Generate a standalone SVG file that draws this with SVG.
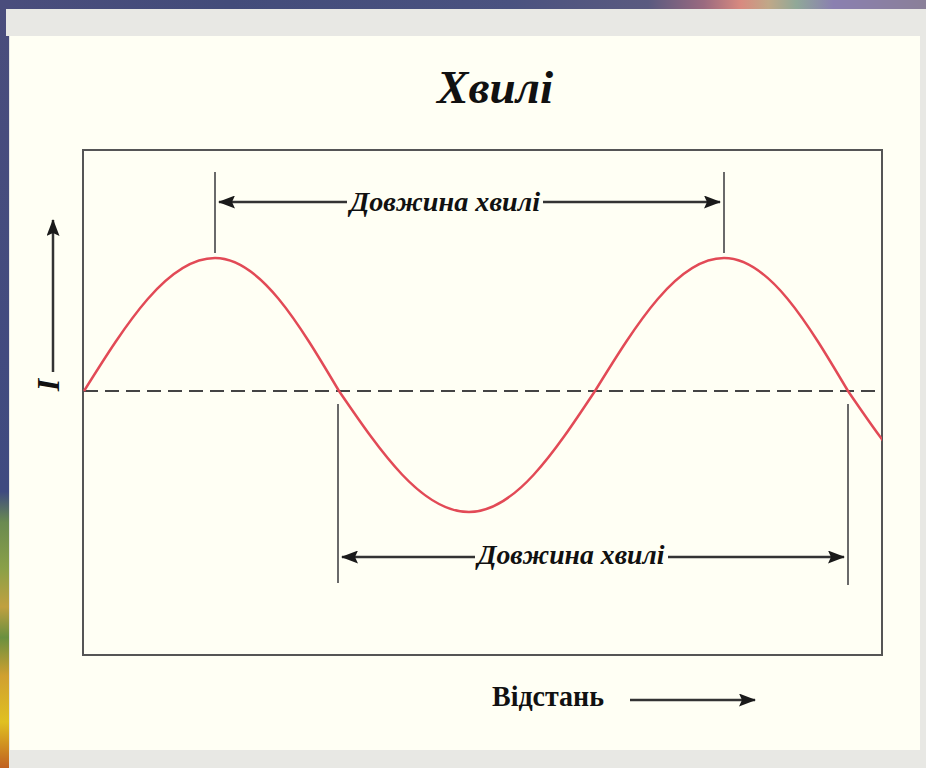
<svg xmlns="http://www.w3.org/2000/svg" width="926" height="768" viewBox="0 0 926 768">
  <defs>
    <linearGradient id="topStrip" x1="0" y1="0" x2="1" y2="0">
      <stop offset="0" stop-color="#4a4d7c"/>
      <stop offset="0.25" stop-color="#434c7a"/>
      <stop offset="0.55" stop-color="#4a5280"/>
      <stop offset="0.70" stop-color="#5a5a80"/>
      <stop offset="0.76" stop-color="#9a6a80"/>
      <stop offset="0.80" stop-color="#d88a80"/>
      <stop offset="0.83" stop-color="#c0a888"/>
      <stop offset="0.86" stop-color="#90a898"/>
      <stop offset="0.90" stop-color="#8a80b0"/>
      <stop offset="1" stop-color="#8a8098"/>
    </linearGradient>
    <linearGradient id="leftStrip" x1="0" y1="0" x2="0" y2="1">
      <stop offset="0" stop-color="#4a4d7c"/>
      <stop offset="0.64" stop-color="#3f4a80"/>
      <stop offset="0.68" stop-color="#6a8a50"/>
      <stop offset="0.74" stop-color="#8aa048"/>
      <stop offset="0.79" stop-color="#c0a040"/>
      <stop offset="0.83" stop-color="#6a9040"/>
      <stop offset="0.88" stop-color="#d0a030"/>
      <stop offset="0.94" stop-color="#e0c020"/>
      <stop offset="1" stop-color="#c06020"/>
    </linearGradient>
    <clipPath id="plotClip">
      <rect x="83" y="150" width="799" height="505"/>
    </clipPath>
    <marker id="arrow" viewBox="0 0 17 13" refX="16" refY="6.5" markerWidth="17" markerHeight="13" markerUnits="userSpaceOnUse" orient="auto">
      <path d="M0,0 L17,6.5 L0,13 L3,6.5 Z" fill="#1a1a1a"/>
    </marker>
    <style>
      .frame { fill: none; stroke: #555; stroke-width: 2; }
      .guide { stroke: #6a6a6a; stroke-width: 2; fill: none; }
      .dim { stroke: #333; stroke-width: 2.5; fill: none; }
      .base { stroke: #444; stroke-width: 2; stroke-dasharray: 14 7; fill: none; }
      .wave { stroke: #e24a56; stroke-width: 2.5; fill: none; }
      .lbl { font-family: "Liberation Serif", "DejaVu Serif", serif; font-style: italic; font-weight: bold; fill: #111; }
      .up { font-family: "Liberation Serif", "DejaVu Serif", serif; font-weight: bold; fill: #111; }
    </style>
  </defs>

  <!-- background -->
  <rect x="0" y="0" width="926" height="768" fill="#464c7a"/>
  <rect x="0" y="0" width="926" height="10" fill="url(#topStrip)"/>
  <rect x="0" y="0" width="9" height="768" fill="url(#leftStrip)"/>
  <rect x="6" y="9" width="920" height="27" fill="#e8e8e4"/>
  <rect x="9" y="9" width="917" height="759" fill="#e8e8e4"/>
  <rect x="10" y="36" width="910" height="714" fill="#fffff4"/>

  <g id="title">
    <text class="lbl" x="495" y="103" font-size="46" text-anchor="middle" textLength="116" lengthAdjust="spacingAndGlyphs">Хвилі</text>
  </g>

  <g id="plot-frame">
    <rect class="frame" x="83" y="150" width="799" height="505"/>
  </g>

  <g id="baseline">
    <line class="base" x1="84" y1="391" x2="881" y2="391"/>
  </g>

  <g id="wave" clip-path="url(#plotClip)">
    <path class="wave" d="M84,391 C126.7,322.9 167.6,258 215,258 C259.9,258 298.6,322.9 339,391 C381.4,453 422,512 469,512 C514.6,512 553.9,453 595,391 C637.1,322.9 677.3,258 724,258 C768.9,258 807.6,322.9 848,391 C890.4,453 931,512 978,512"/>
  </g>

  <g id="connectors">
    <!-- top wavelength -->
    <line class="guide" x1="215" y1="172" x2="215" y2="253"/>
    <line class="guide" x1="724" y1="172" x2="724" y2="253"/>
    <line class="dim" x1="347" y1="202" x2="219" y2="202" marker-end="url(#arrow)"/>
    <line class="dim" x1="543" y1="202" x2="720" y2="202" marker-end="url(#arrow)"/>
    <!-- bottom wavelength -->
    <line class="guide" x1="338" y1="404" x2="338" y2="583"/>
    <line class="guide" x1="848" y1="404" x2="848" y2="585"/>
    <line class="dim" x1="475" y1="557" x2="342" y2="557" marker-end="url(#arrow)"/>
    <line class="dim" x1="668" y1="557" x2="844" y2="557" marker-end="url(#arrow)"/>
    <!-- y axis -->
    <line class="dim" x1="53" y1="372" x2="53" y2="220" marker-end="url(#arrow)"/>
    <!-- distance arrow -->
    <line class="dim" x1="630" y1="700" x2="755" y2="700" marker-end="url(#arrow)"/>
  </g>

  <g id="label-top">
    <text class="lbl" x="445" y="211" font-size="28" text-anchor="middle" textLength="190" lengthAdjust="spacingAndGlyphs">Довжина хвилі</text>
  </g>
  <g id="label-bottom">
    <text class="lbl" x="571" y="564" font-size="27" text-anchor="middle" textLength="187" lengthAdjust="spacingAndGlyphs">Довжина хвилі</text>
  </g>
  <g id="label-y">
    <text class="lbl" x="0" y="0" font-size="32" text-anchor="middle" transform="translate(59,385) rotate(-90)">I</text>
  </g>
  <g id="label-distance">
    <text class="up" x="548" y="706" font-size="29" text-anchor="middle" textLength="112" lengthAdjust="spacingAndGlyphs">Відстань</text>
  </g>
</svg>
